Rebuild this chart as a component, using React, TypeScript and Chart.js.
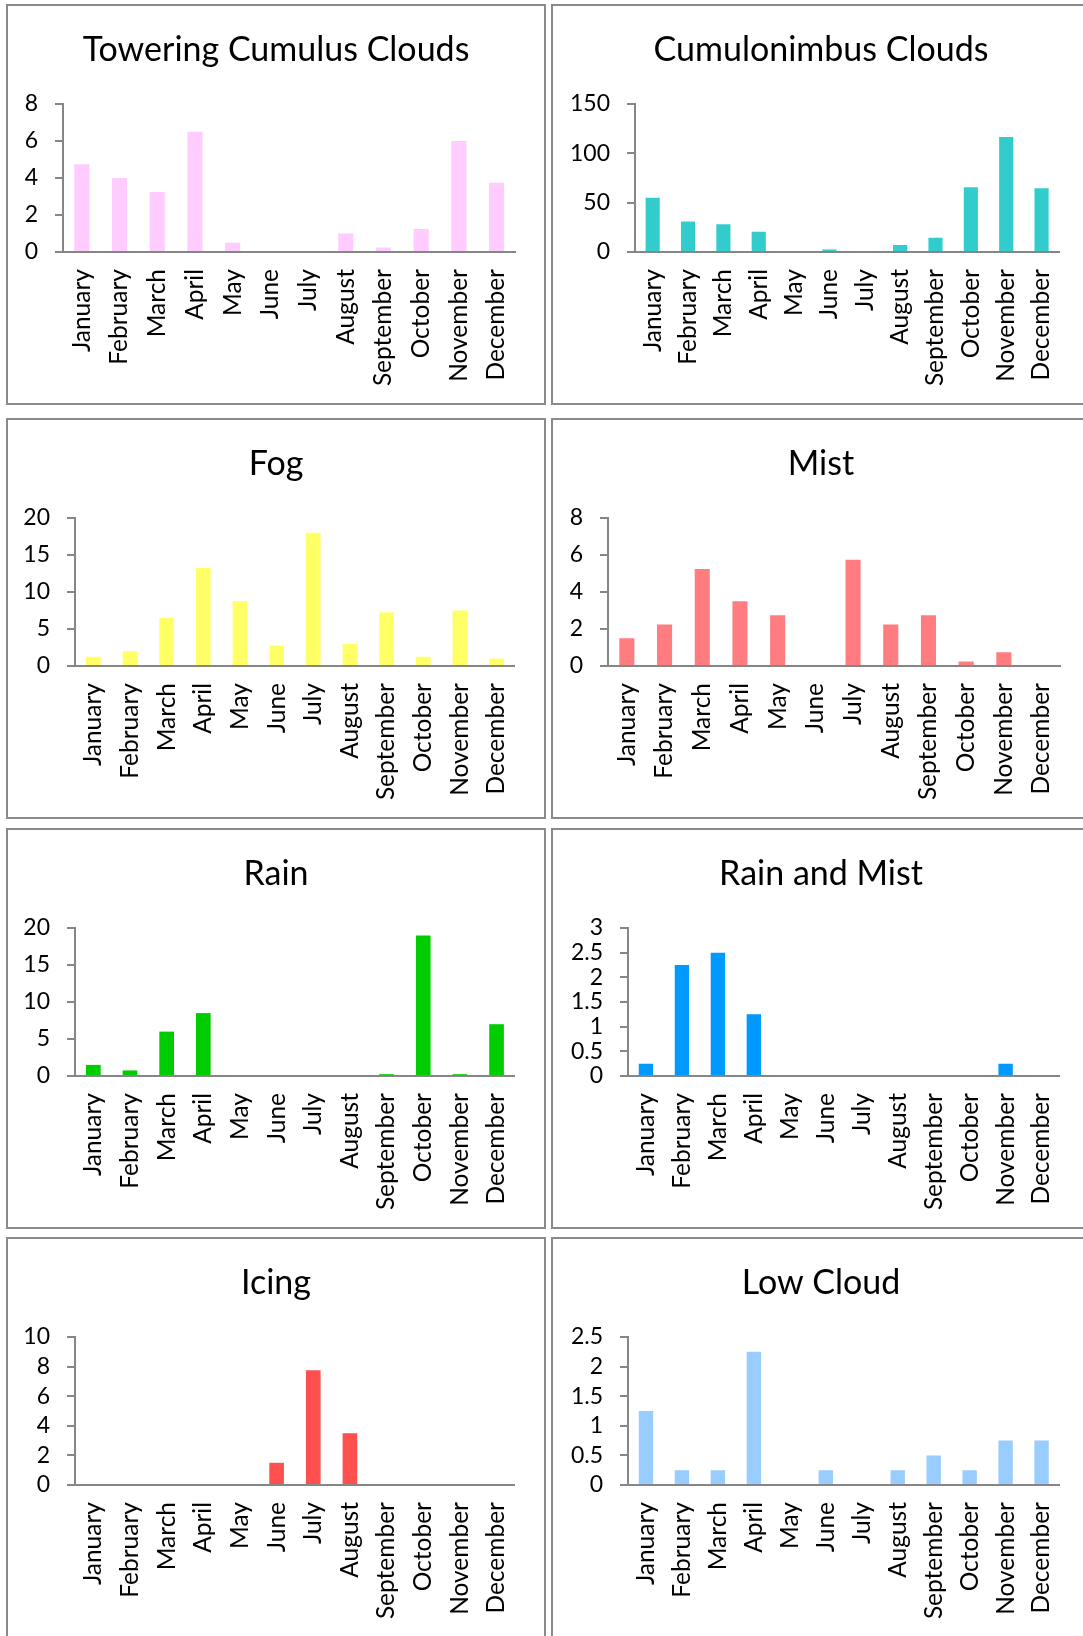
import React, { useEffect, useRef } from "react";
import { Chart, registerables } from "chart.js";

Chart.register(...registerables);

// ---------- data ----------
const months = [
  "January", "February", "March", "April", "May", "June",
  "July", "August", "September", "October", "November", "December",
];

const toweringCumulus = [4.75, 4, 3.25, 6.5, 0.5, 0, 0, 1, 0.25, 1.25, 6, 3.75];
const cumulonimbus = [55, 31, 28, 20.5, 1, 2.5, 0, 7, 14.5, 65.5, 116.5, 64.5];
const fog = [1.25, 2, 6.5, 13.25, 8.75, 2.75, 18, 3, 7.25, 1.25, 7.5, 1];
const mist = [1.5, 2.25, 5.25, 3.5, 2.75, 0, 5.75, 2.25, 2.75, 0.25, 0.75, 0];
const rain = [1.5, 0.75, 6, 8.5, 0, 0, 0, 0, 0.25, 19, 0.25, 7];
const rainAndMist = [0.25, 2.25, 2.5, 1.25, 0, 0, 0, 0, 0, 0, 0.25, 0];
const icing = [0, 0, 0, 0, 0, 1.5, 7.75, 3.5, 0, 0, 0, 0];
const lowCloud = [1.25, 0.25, 0.25, 2.25, 0, 0.25, 0, 0.25, 0.5, 0.25, 0.75, 0.75];

const panelTitles = [
  "Towering Cumulus Clouds",
  "Cumulonimbus Clouds",
  "Fog",
  "Mist",
  "Rain",
  "Rain and Mist",
  "Icing",
  "Low Cloud",
];
const panelSeries = [toweringCumulus, cumulonimbus, fog, mist, rain, rainAndMist, icing, lowCloud];
const axisMax = [8, 150, 20, 8, 20, 3, 10, 2.5];
const axisStep = [2, 50, 5, 2, 5, 0.5, 2, 0.5];

// ---------- styles / layout ----------
const panelColors = ["#FFCCFF", "#33CCCC", "#FFFF66", "#FF7C80", "#00CC00", "#0099FF", "#FF5050", "#99CCFF"];
const PANEL_W = 540;
const PANEL_H = 401;
const BORDER = 2;
const CANVAS_W = PANEL_W - 2 * BORDER;
const CANVAS_H = PANEL_H - 2 * BORDER;
const colX = [6, 551];
const rowY = [4, 418, 828, 1237];
const axisLeft = [55, 82, 67, 55, 67, 75, 67, 75];
const PLOT_TOP = 98;
const PLOT_BOTTOM = 246;
const PLOT_RIGHT = 511;
const AXIS_COLOR = "#868686";
const FONT = "Lato";
const TITLE_SIZE = 34;
const TITLE_Y = 44.5;

const panelTitlePlugin = {
  id: "panelTitle",
  afterDraw(chart: any, _args: any, opts: any) {
    const ctx = chart.ctx;
    ctx.save();
    ctx.font = `normal ${TITLE_SIZE}px ${FONT}`;
    ctx.fillStyle = "#000";
    ctx.textAlign = "center";
    ctx.textBaseline = "middle";
    ctx.fillText(opts.text, chart.width / 2, TITLE_Y);
    ctx.restore();
  },
};

function Panel({ index }: { index: number }) {
  const ref = useRef<HTMLCanvasElement | null>(null);

  useEffect(() => {
    if (!ref.current) return;
    const chart = new Chart(ref.current, {
      type: "bar",
      data: {
        labels: months,
        datasets: [
          {
            data: panelSeries[index],
            backgroundColor: panelColors[index],
            borderWidth: 0,
            barPercentage: 0.4,
            categoryPercentage: 1,
          },
        ],
      },
      plugins: [panelTitlePlugin],
      options: {
        animation: false,
        responsive: false,
        maintainAspectRatio: false,
        layout: { padding: { left: 0, right: CANVAS_W - PLOT_RIGHT, top: PLOT_TOP, bottom: 0 } },
        plugins: {
          legend: { display: false },
          tooltip: { enabled: false },
          title: { display: false },
          panelTitle: { text: panelTitles[index] },
        },
        scales: {
          x: {
            grid: { display: true, drawOnChartArea: false, drawTicks: false, color: "rgba(0,0,0,0)" },
            border: { display: true, color: AXIS_COLOR, width: 2 },
            ticks: {
              color: "#000",
              font: { family: FONT, size: 24.5 },
              minRotation: 90,
              maxRotation: 90,
              autoSkip: false,
              padding: 17,
            },
            afterFit: (s: any) => {
              s.height = CANVAS_H - PLOT_BOTTOM;
            },
          },
          y: {
            min: 0,
            max: axisMax[index],
            ticks: {
              stepSize: axisStep[index],
              autoSkip: false,
              color: "#000",
              font: { family: FONT, size: 23 },
              padding: 17,
              callback: (v: any) => String(v),
            },
            grid: {
              drawOnChartArea: false,
              drawTicks: true,
              tickLength: 8,
              color: AXIS_COLOR,
              lineWidth: 2,
            },
            border: { display: true, color: AXIS_COLOR, width: 2 },
            afterFit: (s: any) => {
              s.width = axisLeft[index];
            },
          },
        },
      } as any,
    });
    return () => chart.destroy();
  }, [index]);

  const col = index % 2;
  const row = Math.floor(index / 2);
  return (
    <div
      style={{
        position: "absolute",
        left: colX[col],
        top: rowY[row],
        width: PANEL_W,
        height: PANEL_H,
        boxSizing: "border-box",
        border: `${BORDER}px solid #8a8a8a`,
        background: "#fff",
      }}
    >
      <canvas
        ref={ref}
        width={CANVAS_W}
        height={CANVAS_H}
        style={{ display: "block", width: CANVAS_W, height: CANVAS_H }}
      />
    </div>
  );
}

export default function App() {
  return (
    <div
      style={{
        position: "absolute",
        left: 0,
        top: 0,
        width: 1083,
        height: 1636,
        overflow: "hidden",
        background: "#fff",
      }}
    >
      {panelTitles.map((_, i) => (
        <Panel key={i} index={i} />
      ))}
    </div>
  );
}
